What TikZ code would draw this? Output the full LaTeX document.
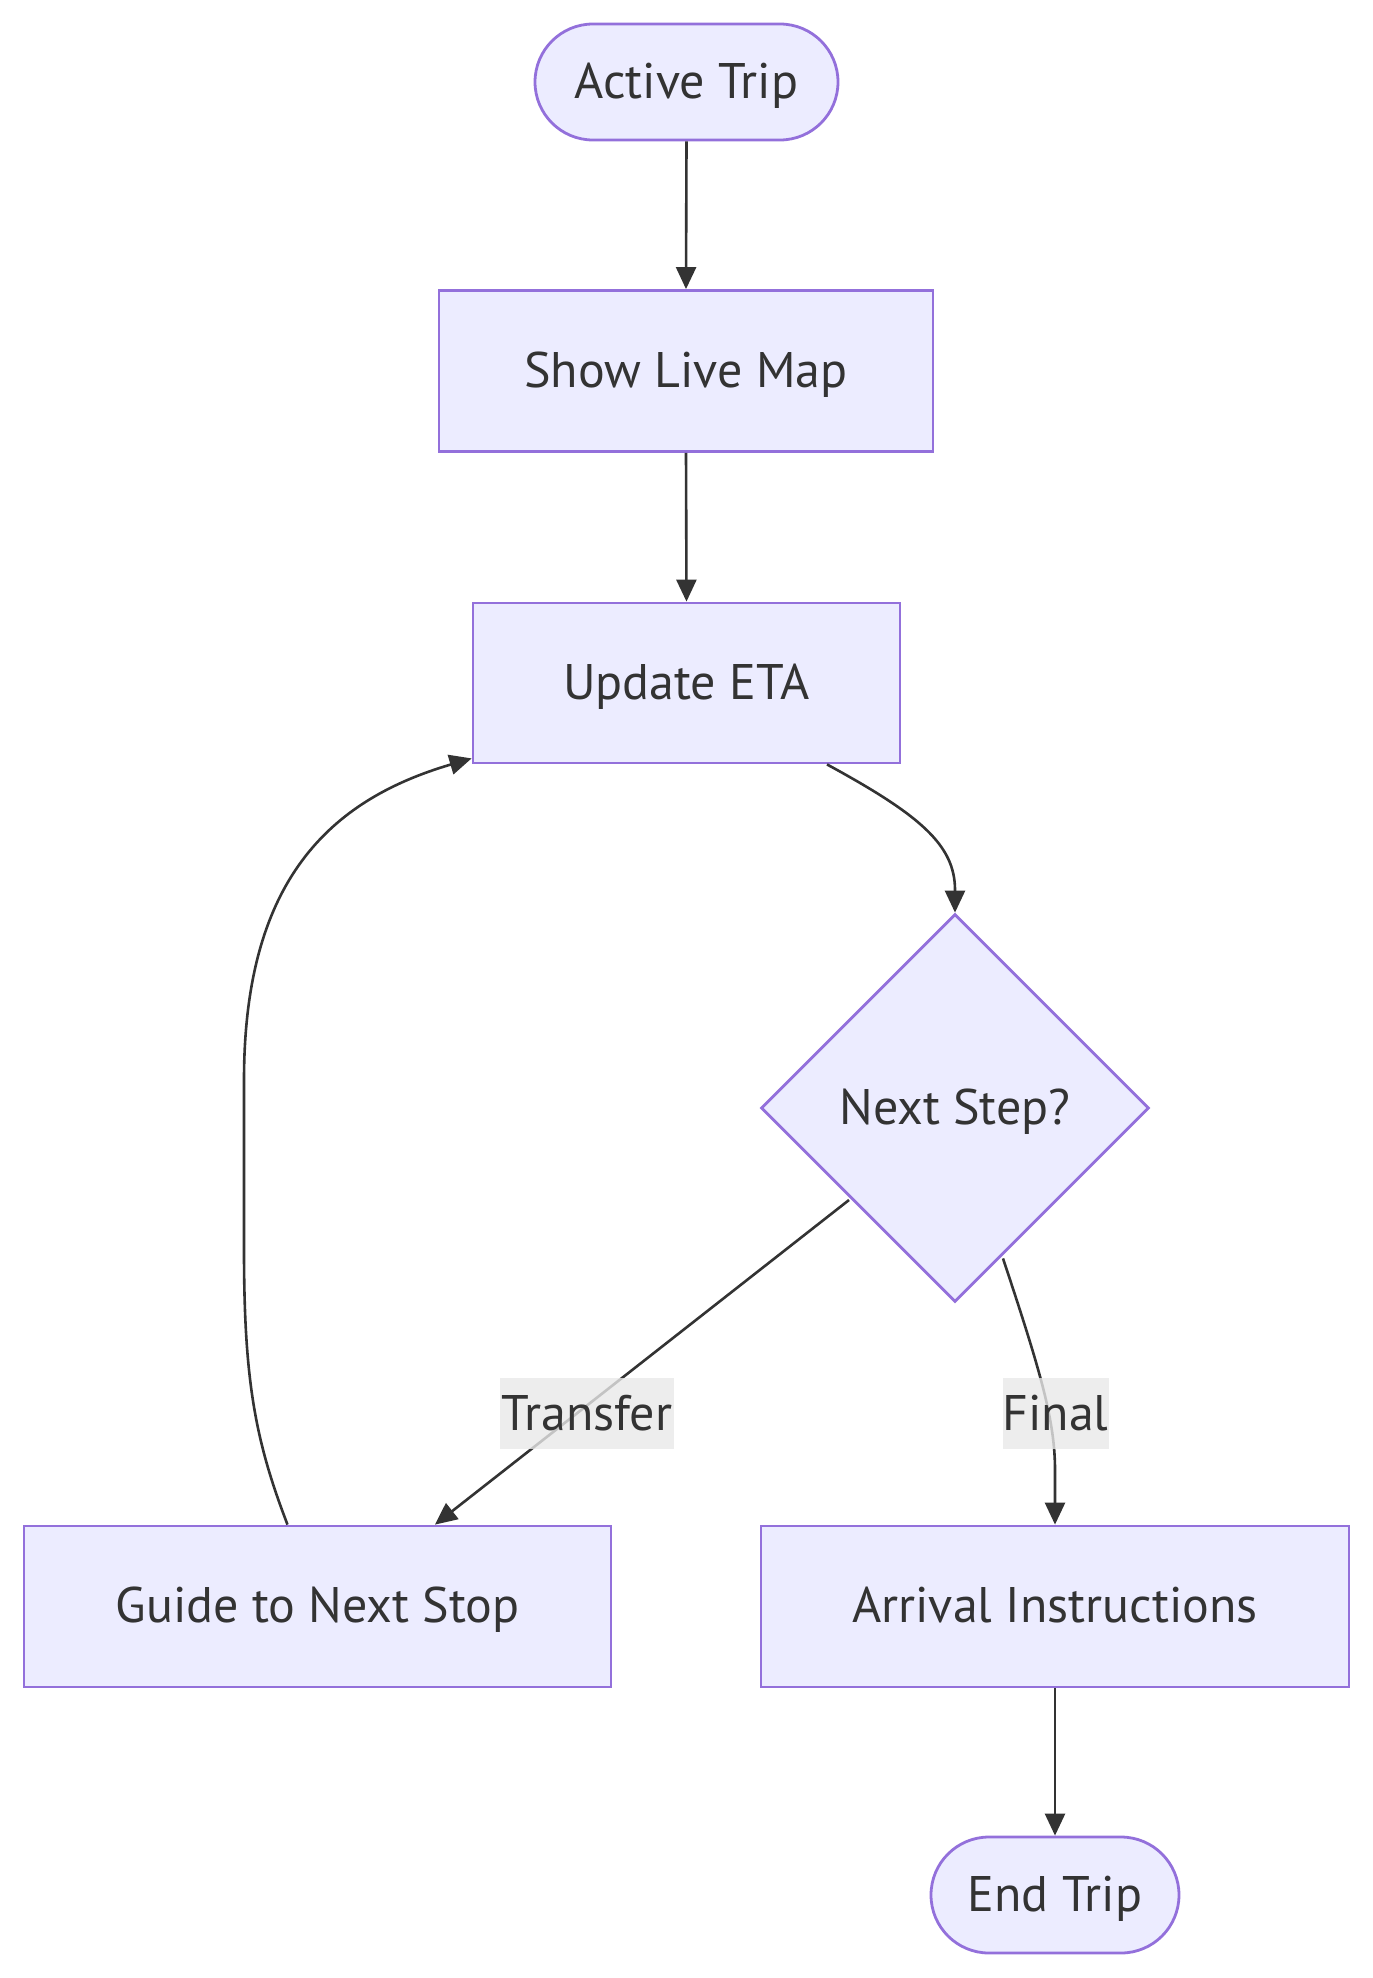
\documentclass[tikz,border=0pt]{standalone}
\usepackage{fontspec}
\setmainfont{PT Sans}
\usetikzlibrary{shapes.geometric,arrows.meta,calc}
\definecolor{nodefill}{HTML}{ECECFF}
\definecolor{nodeline}{HTML}{9370DB}
\definecolor{edgeline}{HTML}{333333}
\definecolor{labelbg}{HTML}{E8E8E8}
\begin{document}
\begin{tikzpicture}[x=1pt,y=-1pt,
  base/.style={draw=nodeline,fill=nodefill,line width=2.8pt,text=edgeline,
    font=\fontsize{50}{58}\selectfont,inner sep=0pt,text depth=3pt},
  boxnode/.style={base,rectangle,minimum width=#1,minimum height=161pt},
  pill/.style={base,rectangle,rounded corners=58pt,minimum width=#1,minimum height=116pt},
  decision/.style={base,diamond,minimum width=388pt,minimum height=388pt},
  elabel/.style={fill=labelbg,fill opacity=0.8,text opacity=1,text=edgeline,
    font=\fontsize{50}{58}\selectfont,inner sep=0pt,minimum height=71pt},
  edge/.style={draw=edgeline,line width=2.6pt,-{Triangle[length=22pt,width=20pt]}}
]
\useasboundingbox (0,0) rectangle (1373,1978);
\node[pill=303pt] (AT) at (686.5,82) {Active Trip};
\node[boxnode=494pt] (SM) at (686,371) {Show Live Map};
\node[boxnode=427pt,minimum height=160pt] (UE) at (686.5,683) {Update ETA};
\node[decision] (NS) at (955,1108) {Next Step?};
\node[boxnode=587pt] (GN) at (317.5,1606.5) {Guide to Next Stop};
\node[boxnode=588pt] (AI) at (1055,1606.5) {Arrival Instructions};
\node[pill=248pt] (ET) at (1055,1895) {End Trip};

\draw[edge] (AT.south) -- (SM.north);
\draw[edge] (SM.north |- SM.south) -- (UE.north);
\draw[edge] ([xshift=140.5pt]UE.south) .. controls (920,815) and (955,845) .. (955,890) -- (NS.north);
\draw[edge] ([xshift=-106pt,yshift=-92pt]NS.center) -- ([xshift=117.5pt]GN.north);
\draw[edge] ([xshift=48pt,yshift=45pt]NS.south) .. controls (1040,1370) and (1055,1420) .. (1055,1470) -- (AI.north);
\draw[edge] ([xshift=-30pt]GN.north) .. controls (255,1440) and (244,1380) .. (244,1250) -- (244,1080)
   .. controls (244,880) and (330,800) .. ([yshift=6pt]UE.south west);
\draw[edge] (AI.south) -- (ET.north);

\node[elabel,minimum width=174pt] (LT) at (587,1413) {Transfer};
\node[elabel,minimum width=105pt] (LF) at (1055.5,1413) {Final};
\end{tikzpicture}
\end{document}
